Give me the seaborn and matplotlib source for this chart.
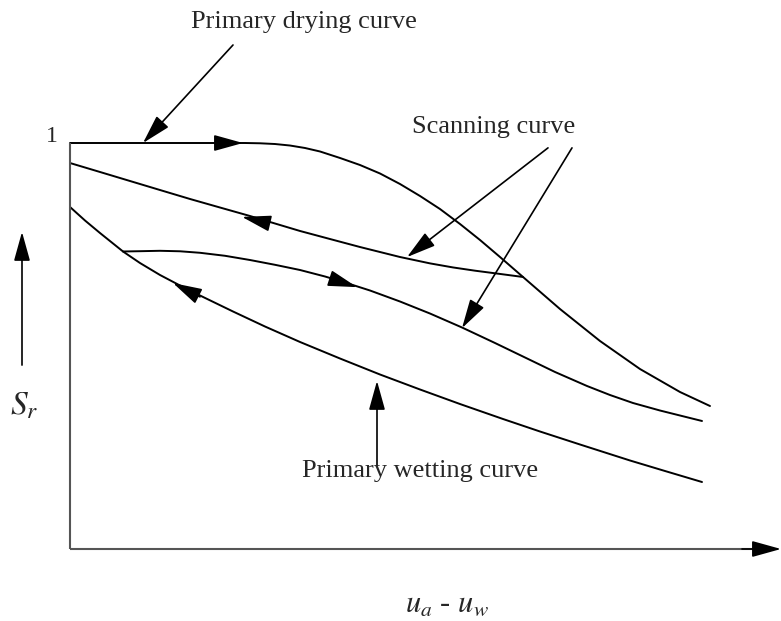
import numpy as np
import pandas as pd
import matplotlib
matplotlib.use("Agg")
import matplotlib.pyplot as plt
import seaborn as sns

# ---- data: suction u_a - u_w (arbitrary schematic units), degree of saturation S_r ----
drying_x = [0, 175, 190, 205, 220, 235, 250, 270, 290, 310, 330, 350, 370, 390, 410, 430, 453,
            490, 530, 570, 610, 640]
drying_y = [1.000, 1.000, 0.9993, 0.9975, 0.9938, 0.9877, 0.9791, 0.9631, 0.9458, 0.9249, 0.8990,
            0.8695, 0.8374, 0.8005, 0.7611, 0.7192, 0.6700, 0.5911, 0.5123, 0.4433, 0.3867, 0.3522]

scan_dry_x = [0, 30, 60, 90, 120, 150, 180, 200, 230, 260, 290, 330, 360, 383, 405, 430, 453]
scan_dry_y = [0.9507, 0.9286, 0.9064, 0.8842, 0.8621, 0.8411, 0.8202, 0.8054, 0.7833, 0.7635,
              0.7438, 0.7192, 0.7035, 0.6935, 0.6855, 0.6775, 0.6700]

scan_wet_x = [53, 70, 90, 110, 130, 155, 180, 205, 230, 255, 275, 300, 330, 360, 392, 425, 453,
              485, 517, 540, 563, 590, 610, 632]
scan_wet_y = [0.7328, 0.7335, 0.7345, 0.7333, 0.7296, 0.7222, 0.7118, 0.7000, 0.6872, 0.6712,
              0.6564, 0.6367, 0.6096, 0.5800, 0.5456, 0.5074, 0.4741, 0.4360, 0.4015, 0.3793,
              0.3596, 0.3411, 0.3288, 0.3153]

wetting_x = [0, 15, 30, 53, 70, 90, 110, 130, 163, 195, 230, 270, 310, 350, 390, 433, 470, 510,
             560, 595, 632]
wetting_y = [0.8424, 0.8091, 0.7783, 0.7328, 0.7044, 0.6749, 0.6490, 0.6244, 0.5850, 0.5480,
             0.5099, 0.4692, 0.4298, 0.3929, 0.3571, 0.3202, 0.2894, 0.2574, 0.2180, 0.1921, 0.1650]

# direction arrowheads on curves: (base, tip)
dir_arrows = [
    ((148, 1.0), (173, 1.0)),
    ((198, 0.803), (172, 0.818)),
    ((262, 0.665), (287, 0.645)),
    ((130, 0.621), (103, 0.655)),
]

labels = ["Primary drying curve", "Scanning curve", "Primary wetting curve"]
label_pos = [(234, 1.298), (424, 1.040), (350, 0.192)]
# pointer arrows: (start, tip)
pointers = [
    ((163, 1.2414), (73, 1.0)),
    ((478, 0.988), (337, 0.719)),
    ((502, 0.988), (392, 0.544)),
    ((307, 0.207), (307, 0.414)),
]

frames = []
for name, xs, ys in [("drying", drying_x, drying_y), ("scan_dry", scan_dry_x, scan_dry_y),
                     ("scan_wet", scan_wet_x, scan_wet_y), ("wetting", wetting_x, wetting_y)]:
    frames.append(pd.DataFrame({"x": xs, "Sr": ys, "curve": name}))
df = pd.concat(frames, ignore_index=True)

sns.set_theme(style="white")
plt.rcParams["font.family"] = ["Liberation Serif", "DejaVu Serif"]
plt.rcParams["mathtext.fontset"] = "stix"

fig = plt.figure(figsize=(7.81, 6.21), dpi=100)
ax = fig.add_axes([0, 0, 1, 1])
ax.set_xlim(-70, 711)
ax.set_ylim(-72 / 406, 1 + 143 / 406)
ax.axis("off")

sns.lineplot(data=df, x="x", y="Sr", hue="curve", units="curve", estimator=None, sort=False,
             palette={"drying": "black", "scan_dry": "black", "scan_wet": "black", "wetting": "black"},
             legend=False, lw=1.4, ax=ax)
for line in ax.lines:
    line.set_solid_joinstyle("round")

# axes
ax.plot([0, 0], [0, 1.0], color="#555555", lw=1.5, solid_capstyle="butt")
ax.plot([0, 690], [0, 0], color="#555555", lw=1.5, solid_capstyle="butt")
head = dict(arrowstyle="-|>,head_length=1.8,head_width=0.5", color="black", lw=1.2,
            shrinkA=0, shrinkB=0, mutation_scale=10)
ax.annotate("", xy=(711, 0), xytext=(672, 0), arrowprops=head)

for base, tip in dir_arrows:
    ax.annotate("", xy=tip, xytext=base, arrowprops=head)
for start, tip in pointers:
    ax.annotate("", xy=tip, xytext=start, arrowprops=head)

for t, (px, py) in zip(labels, label_pos):
    ax.text(px, py, t, ha="center", va="center", fontsize=19)

ax.text(-18, 1.015, "1", ha="center", va="center", fontsize=17)
# S_r arrow and label
ax.annotate("", xy=(-48, 0.781), xytext=(-48, 0.453), arrowprops=head)
ax.text(-46, 0.352, r"$S_r$", ha="center", va="center", fontsize=24)
ax.text(377, -0.135, r"$u_a$ - $u_w$", ha="center", va="center", fontsize=22)

fig.savefig("out.png", dpi=100)
